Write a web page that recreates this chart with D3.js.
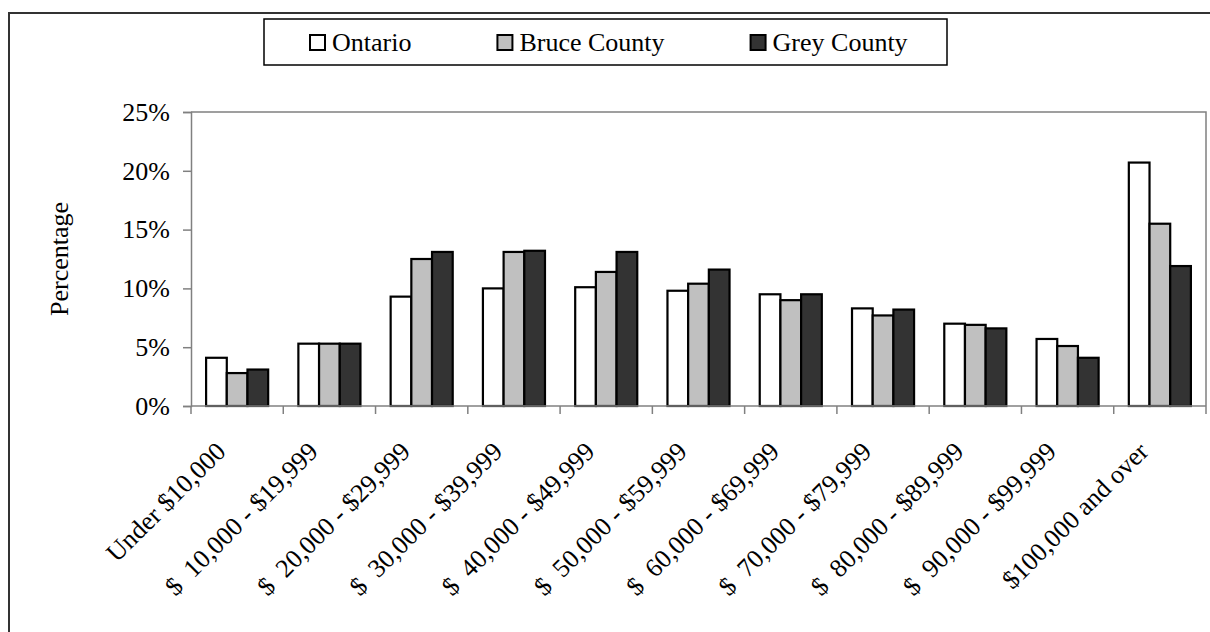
<!DOCTYPE html>
<html>
<head>
<meta charset="utf-8">
<script src="https://cdn.jsdelivr.net/npm/d3@7"></script>
<style>
  html, body { margin: 0; padding: 0; background: #fff; }
  svg { display: block; font-family: "Liberation Serif", "Times New Roman", serif; }
  text { white-space: pre; }
</style>
</head>
<body>
<svg id="chart" width="1210" height="632"></svg>
<script>
// Household income distribution
const categories = [
  "Under $10,000",
  "$  10,000 - $19,999",
  "$  20,000 - $29,999",
  "$  30,000 - $39,999",
  "$  40,000 - $49,999",
  "$  50,000 - $59,999",
  "$  60,000 - $69,999",
  "$  70,000 - $79,999",
  "$  80,000 - $89,999",
  "$  90,000 - $99,999",
  "$100,000 and over"
];
const seriesNames = ["Ontario", "Bruce County", "Grey County"];
const ontario = [4.1, 5.3, 9.3, 10.0, 10.1, 9.8, 9.5, 8.3, 7.0, 5.7, 20.7];
const bruce   = [2.8, 5.3, 12.5, 13.1, 11.4, 10.4, 9.0, 7.7, 6.9, 5.1, 15.5];
const grey    = [3.1, 5.3, 13.1, 13.2, 13.1, 11.6, 9.5, 8.2, 6.6, 4.1, 11.9];
const yTicks = [0, 5, 10, 15, 20, 25];
const fills = ["#ffffff", "#c0c0c0", "#333333"];

const values = [ontario, bruce, grey];
const svg = d3.select("#chart");

// outer frame
svg.append("rect")
  .attr("x", 9).attr("y", 13)
  .attr("width", 1215).attr("height", 640)
  .attr("fill", "none").attr("stroke", "#333").attr("stroke-width", 2);

const plot = { left: 191, right: 1206, top: 112, bottom: 406 };

const x0 = d3.scaleBand().domain(categories).range([plot.left, plot.right]).padding(0);
const x1 = d3.scaleBand().domain(seriesNames).range([0, x0.bandwidth()])
  .paddingInner(0).paddingOuter(0.73);
const y = d3.scaleLinear().domain([0, 25]).range([plot.bottom, plot.top]);

// plot area frame (top/right)
svg.append("path")
  .attr("d", `M${plot.left},${plot.top}H${plot.right}V${plot.bottom}`)
  .attr("fill", "none").attr("stroke", "#808080").attr("stroke-width", 1.5);

// bars
const groups = svg.append("g").selectAll("g")
  .data(categories)
  .join("g")
  .attr("transform", d => `translate(${x0(d)},0)`);

groups.selectAll("rect")
  .data((c, i) => seriesNames.map((s, k) => ({ s, k, v: values[k][i] })))
  .join("rect")
  .attr("x", d => x1(d.s))
  .attr("width", x1.bandwidth())
  .attr("y", d => y(d.v))
  .attr("height", d => y(0) - y(d.v))
  .attr("fill", d => fills[d.k])
  .attr("stroke", "#000")
  .attr("stroke-width", 2.2);

// y axis
const yAxis = svg.append("g")
  .attr("transform", `translate(${plot.left},0)`)
  .call(d3.axisLeft(y).tickValues(yTicks).tickFormat(d => d + "%").tickSizeOuter(0).tickSize(8).tickPadding(13));
yAxis.select(".domain").attr("stroke", "#808080").attr("stroke-width", 1.5);
yAxis.selectAll(".tick line").attr("stroke", "#808080").attr("stroke-width", 1.5);
yAxis.selectAll("text")
  .attr("font-family", "Liberation Serif, Times New Roman, serif")
  .attr("font-size", 26).attr("fill", "#000");

// x axis: ticks at category boundaries
const xAxisG = svg.append("g").attr("transform", `translate(0,${plot.bottom})`);
xAxisG.append("line")
  .attr("x1", plot.left).attr("x2", plot.right)
  .attr("stroke", "#808080").attr("stroke-width", 1.5);
const boundaries = categories.map(c => x0(c)).concat([x0(categories[categories.length - 1]) + x0.step()]);
xAxisG.selectAll("line.tick")
  .data(boundaries)
  .join("line")
  .attr("class", "tick")
  .attr("x1", d => d).attr("x2", d => d)
  .attr("y1", 0).attr("y2", 8)
  .attr("stroke", "#808080").attr("stroke-width", 1.5);

// rotated category labels
svg.append("g").selectAll("text")
  .data(categories)
  .join("text")
  .attr("transform", d => `translate(${x0(d) + x0.bandwidth() / 2 - 10},${plot.bottom + 47}) rotate(-45)`)
  .attr("text-anchor", "end")
  .attr("font-size", 26)
  .attr("fill", "#000")
  .text(d => d);

// y axis title
svg.append("text")
  .attr("transform", `translate(68,${(plot.top + plot.bottom) / 2}) rotate(-90)`)
  .attr("text-anchor", "middle")
  .attr("font-size", 26)
  .attr("fill", "#000")
  .text("Percentage");

// legend
const legend = svg.append("g");
legend.append("rect")
  .attr("x", 264).attr("y", 19).attr("width", 683).attr("height", 46)
  .attr("fill", "#fff").attr("stroke", "#000").attr("stroke-width", 1.5);
let lx = 309;
seriesNames.forEach((name, k) => {
  legend.append("rect")
    .attr("x", lx + 1).attr("y", 35).attr("width", 15).attr("height", 15)
    .attr("fill", fills[k]).attr("stroke", "#000").attr("stroke-width", 2);
  const t = legend.append("text")
    .attr("x", lx + 23).attr("y", 51)
    .attr("font-size", 26).attr("fill", "#000")
    .text(name);
  lx += 23 + t.node().getComputedTextLength() + 85;
});
</script>
</body>
</html>
